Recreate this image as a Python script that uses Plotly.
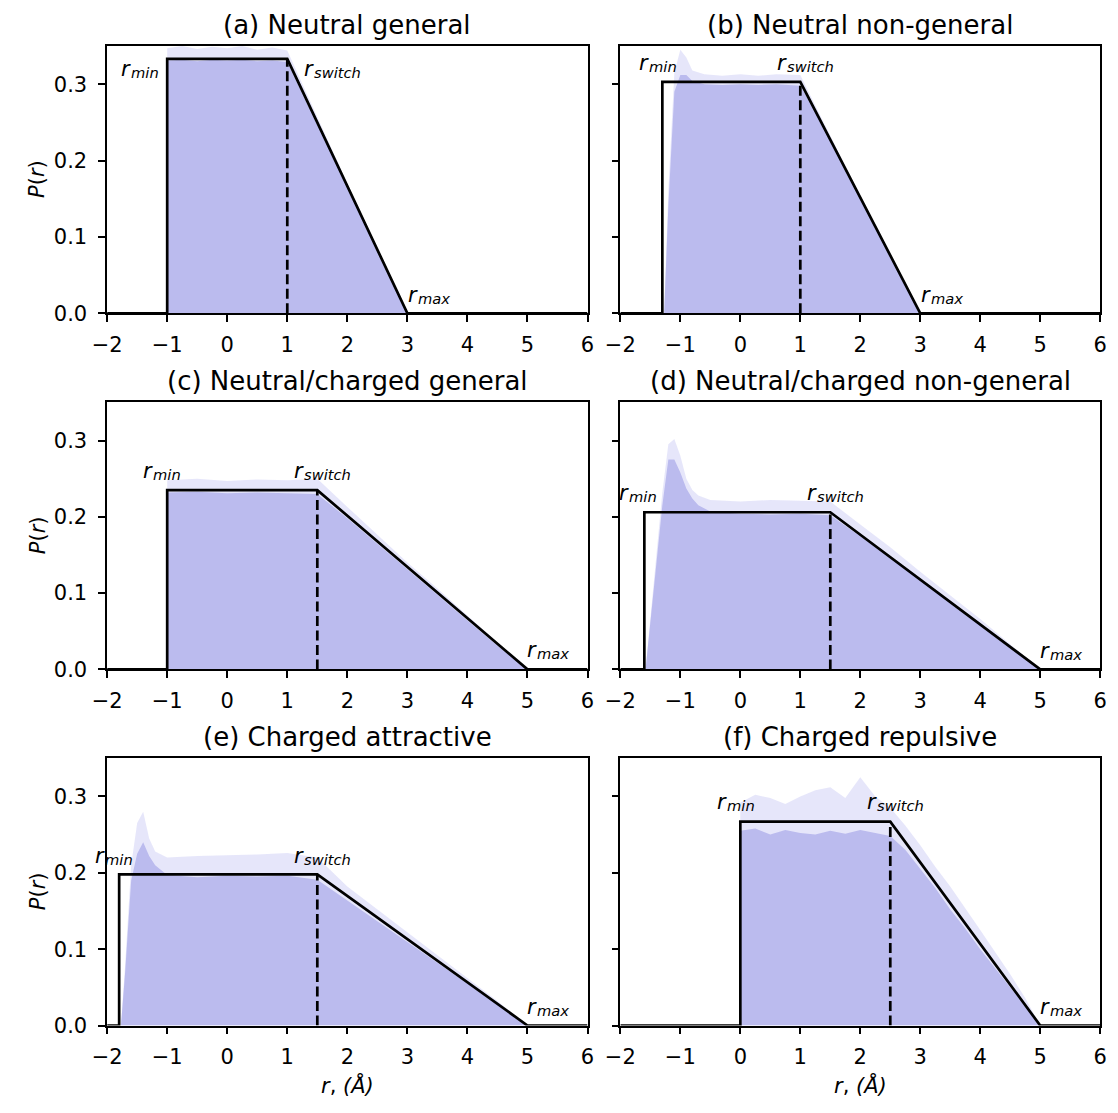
import plotly.graph_objects as go

# ---- model parameters of the six switching-function panels ----
titles = ["(a) Neutral general", "(b) Neutral non-general",
          "(c) Neutral/charged general", "(d) Neutral/charged non-general",
          "(e) Charged attractive", "(f) Charged repulsive"]
r_min = [-1.0, -1.3, -1.0, -1.6, -1.8, 0.0]
r_switch = [1.0, 1.0, 1.5, 1.5, 1.5, 2.5]
r_max = [3.0, 3.0, 5.0, 5.0, 5.0, 5.0]
p_plateau = [0.333, 0.303, 0.235, 0.206, 0.198, 0.267]

# ---- sampled distance histograms: dense level and upper noise envelope ----
hist_r_a = [-1.0, -0.75, -0.5, -0.25, 0.0, 0.25, 0.5, 0.75, 1.0, 1.25, 1.5, 1.75, 2.0, 2.25, 2.5, 2.75, 3.0]
body_a = [0.331, 0.332, 0.330, 0.332, 0.331, 0.332, 0.330, 0.331, 0.329, 0.289, 0.247, 0.206, 0.164, 0.123, 0.082, 0.041, 0.0]
upper_a = [0.347, 0.350, 0.346, 0.349, 0.347, 0.350, 0.345, 0.348, 0.344, 0.300, 0.256, 0.214, 0.170, 0.128, 0.086, 0.043, 0.0]

hist_r_b = [-1.27, -1.2, -1.1, -1.0, -0.9, -0.8, -0.6, -0.3, 0.0, 0.3, 0.6, 1.0, 1.25, 1.5, 1.75, 2.0, 2.25, 2.5, 2.75, 3.0]
body_b = [0.0, 0.14, 0.29, 0.312, 0.312, 0.304, 0.300, 0.299, 0.300, 0.299, 0.300, 0.298, 0.264, 0.226, 0.188, 0.150, 0.113, 0.075, 0.037, 0.0]
upper_b = [0.0, 0.16, 0.315, 0.345, 0.335, 0.318, 0.313, 0.311, 0.313, 0.311, 0.313, 0.312, 0.272, 0.232, 0.193, 0.154, 0.116, 0.077, 0.039, 0.0]

hist_r_c = [-1.0, -0.5, 0.0, 0.5, 1.0, 1.5, 2.0, 2.5, 3.0, 3.5, 4.0, 4.5, 5.0]
body_c = [0.232, 0.233, 0.231, 0.232, 0.231, 0.230, 0.198, 0.165, 0.131, 0.098, 0.064, 0.031, 0.0]
upper_c = [0.248, 0.250, 0.247, 0.249, 0.248, 0.250, 0.213, 0.176, 0.140, 0.106, 0.071, 0.036, 0.0]

hist_r_d = [-1.58, -1.5, -1.4, -1.3, -1.2, -1.1, -1.0, -0.9, -0.8, -0.7, -0.5, 0.0, 0.5, 1.0, 1.5, 2.0, 2.5, 3.0, 3.5, 4.0, 4.5, 5.0]
body_d = [0.0, 0.06, 0.14, 0.215, 0.275, 0.275, 0.258, 0.237, 0.224, 0.215, 0.207, 0.204, 0.203, 0.204, 0.202, 0.175, 0.147, 0.118, 0.089, 0.058, 0.028, 0.0]
upper_d = [0.0, 0.065, 0.15, 0.232, 0.295, 0.302, 0.280, 0.250, 0.235, 0.228, 0.222, 0.220, 0.222, 0.221, 0.220, 0.190, 0.160, 0.128, 0.097, 0.066, 0.033, 0.0]

hist_r_e = [-1.77, -1.7, -1.6, -1.5, -1.4, -1.3, -1.2, -1.1, -1.0, -0.5, 0.0, 0.5, 1.0, 1.5, 2.0, 2.5, 3.0, 3.5, 4.0, 4.5, 5.0]
body_e = [0.0, 0.07, 0.19, 0.225, 0.240, 0.222, 0.210, 0.203, 0.197, 0.194, 0.196, 0.195, 0.196, 0.191, 0.164, 0.136, 0.109, 0.082, 0.055, 0.027, 0.0]
upper_e = [0.0, 0.08, 0.21, 0.265, 0.280, 0.245, 0.228, 0.224, 0.220, 0.222, 0.223, 0.224, 0.226, 0.220, 0.182, 0.152, 0.121, 0.092, 0.062, 0.032, 0.0]

hist_r_f = [0.0, 0.25, 0.5, 0.75, 1.0, 1.25, 1.5, 1.75, 2.0, 2.25, 2.5, 2.75, 3.0, 3.25, 3.5, 3.75, 4.0, 4.25, 4.5, 4.75, 5.0]
body_f = [0.255, 0.258, 0.250, 0.256, 0.252, 0.250, 0.255, 0.251, 0.256, 0.252, 0.248, 0.230, 0.205, 0.180, 0.152, 0.127, 0.100, 0.075, 0.050, 0.024, 0.0]
upper_f = [0.292, 0.302, 0.298, 0.290, 0.300, 0.308, 0.312, 0.298, 0.325, 0.300, 0.285, 0.262, 0.236, 0.208, 0.182, 0.154, 0.125, 0.096, 0.067, 0.036, 0.0]

hist_r = [hist_r_a, hist_r_b, hist_r_c, hist_r_d, hist_r_e, hist_r_f]
hist_body = [body_a, body_b, body_c, body_d, body_e, body_f]
hist_upper = [upper_a, upper_b, upper_c, upper_d, upper_e, upper_f]

x_ticks = [-2, -1, 0, 1, 2, 3, 4, 5, 6]
x_ticktext = ["\u22122", "\u22121", "0", "1", "2", "3", "4", "5", "6"]
y_ticks = [0.0, 0.1, 0.2, 0.3]
y_ticktext = ["0.0", "0.1", "0.2", "0.3"]

# ---- label placement (data coordinates of label centres) ----
lab_min_xy = [(-1.44, 0.320), (-1.37, 0.328), (-1.08, 0.260), (-1.69, 0.231), (-1.88, 0.222), (-0.07, 0.293)]
lab_sw_xy = [(1.77, 0.320), (1.10, 0.328), (1.59, 0.260), (1.60, 0.231), (1.59, 0.222), (2.60, 0.293)]
lab_max_xy = [(3.37, 0.024), (3.37, 0.024), (5.35, 0.025), (5.35, 0.024), (5.35, 0.024), (5.35, 0.024)]

W, H = 1118, 1113
FONT = "DejaVu Sans"
col_px = [(94.0, 584.0), (617.5, 1107.0)]
row_px = [(46.0, 316.7), (406.3, 676.7), (766.0, 1036.7)]
Y_TOP = 0.3506

BODY = "#BBBBEE"
UPPER = "rgba(150,150,235,0.24)"

R_SIZE = 21        # main symbol of the r labels
SUB_SIZE = 14.7    # subscript size (70 %)
SUB_DROP = 3.5     # subscript lowered by this many px
# horizontal shift (px) from label centre to the r/subscript junction
JUNCTION = {"min": -9.6, "switch": -19.2, "max": -11.7}

fig = go.Figure()
layout = dict(width=W, height=H, margin=dict(l=0, r=0, t=0, b=0),
              paper_bgcolor="white", plot_bgcolor="white", showlegend=False,
              font=dict(family=FONT, color="black"))
annotations = []


def r_label(xa, ya, cx, cy, sub):
    shift = JUNCTION[sub]
    annotations.append(dict(text="<i>r</i>", x=cx, y=cy, xref=xa, yref=ya,
                            xanchor="right", yanchor="middle", xshift=shift,
                            showarrow=False, borderpad=0, borderwidth=0,
                            font=dict(family=FONT, size=R_SIZE, color="black")))
    annotations.append(dict(text=f"<i>{sub}</i>", x=cx, y=cy, xref=xa, yref=ya,
                            xanchor="left", yanchor="middle", xshift=shift,
                            yshift=-SUB_DROP, showarrow=False, borderpad=0, borderwidth=0,
                            font=dict(family=FONT, size=SUB_SIZE, color="black")))


for i in range(6):
    row, col = divmod(i, 2)
    n = i + 1
    xa = "x" if n == 1 else f"x{n}"
    ya = "y" if n == 1 else f"y{n}"
    xl = "xaxis" if n == 1 else f"xaxis{n}"
    yl = "yaxis" if n == 1 else f"yaxis{n}"

    x0, x1 = col_px[col]
    t0, b0 = row_px[row]
    layout[xl] = dict(domain=[x0 / W, x1 / W], anchor=ya, range=[-2, 6],
                      tickmode="array", tickvals=x_ticks, ticktext=x_ticktext,
                      ticks="outside", ticklen=7, tickwidth=1.5, tickcolor="black",
                      showline=True, linecolor="black", linewidth=1.5, mirror=True,
                      showgrid=False, zeroline=False, ticklabelstandoff=5,
                      tickfont=dict(family=FONT, size=21, color="black"))
    layout[yl] = dict(domain=[1 - b0 / H, 1 - t0 / H], anchor=xa, range=[0, Y_TOP],
                      tickmode="array", tickvals=y_ticks, ticktext=y_ticktext,
                      ticks="outside", ticklen=7, tickwidth=1.5, tickcolor="black",
                      showline=True, linecolor="black", linewidth=1.5, mirror=True,
                      showgrid=False, zeroline=False, showticklabels=(col == 0),
                      ticklabelstandoff=7,
                      tickfont=dict(family=FONT, size=21, color="black"))

    # histogram: light noise envelope, then dense fill
    fig.add_trace(go.Scatter(x=hist_r[i], y=hist_upper[i], mode="lines",
                             line=dict(width=0), fill="tozeroy", fillcolor=UPPER,
                             xaxis=xa, yaxis=ya, hoverinfo="skip"))
    fig.add_trace(go.Scatter(x=hist_r[i], y=hist_body[i], mode="lines",
                             line=dict(width=0), fill="tozeroy", fillcolor=BODY,
                             xaxis=xa, yaxis=ya, hoverinfo="skip"))

    # trapezoidal target distribution
    h = p_plateau[i]
    fig.add_trace(go.Scatter(x=[-2, r_min[i], r_min[i], r_switch[i], r_max[i], 6],
                             y=[0, 0, h, h, 0, 0], mode="lines",
                             line=dict(color="black", width=2.7),
                             xaxis=xa, yaxis=ya))
    fig.add_trace(go.Scatter(x=[r_switch[i], r_switch[i]], y=[0, h], mode="lines",
                             line=dict(color="black", width=2.7, dash="10px,4.5px"),
                             xaxis=xa, yaxis=ya))

    # panel title
    annotations.append(dict(text=titles[i], xref=f"{xa} domain", yref=f"{ya} domain",
                            x=0.5, y=1, xanchor="center", yanchor="middle", yshift=21,
                            showarrow=False, font=dict(family=FONT, size=26, color="black")))

    # r_min / r_switch / r_max markers
    r_label(xa, ya, *lab_min_xy[i], "min")
    r_label(xa, ya, *lab_sw_xy[i], "switch")
    r_label(xa, ya, *lab_max_xy[i], "max")

    # axis titles
    if col == 0:
        annotations.append(dict(text="<i>P</i>(<i>r</i>)", xref="paper", yref=f"{ya} domain",
                                x=23 / W, y=0.5, xanchor="center", yanchor="middle",
                                textangle=-90, showarrow=False,
                                font=dict(family=FONT, size=21, color="black")))
    if row == 2:
        annotations.append(dict(text="<i>r</i>, <i>(Å)</i>", xref=f"{xa} domain", yref="paper",
                                x=0.5, y=1 - 1097 / H, xanchor="center", yanchor="middle",
                                showarrow=False,
                                font=dict(family=FONT, size=21, color="black")))

layout["annotations"] = annotations
fig.update_layout(**layout)
fig.write_html("out.html", post_script="document.body.style.margin='0';")
